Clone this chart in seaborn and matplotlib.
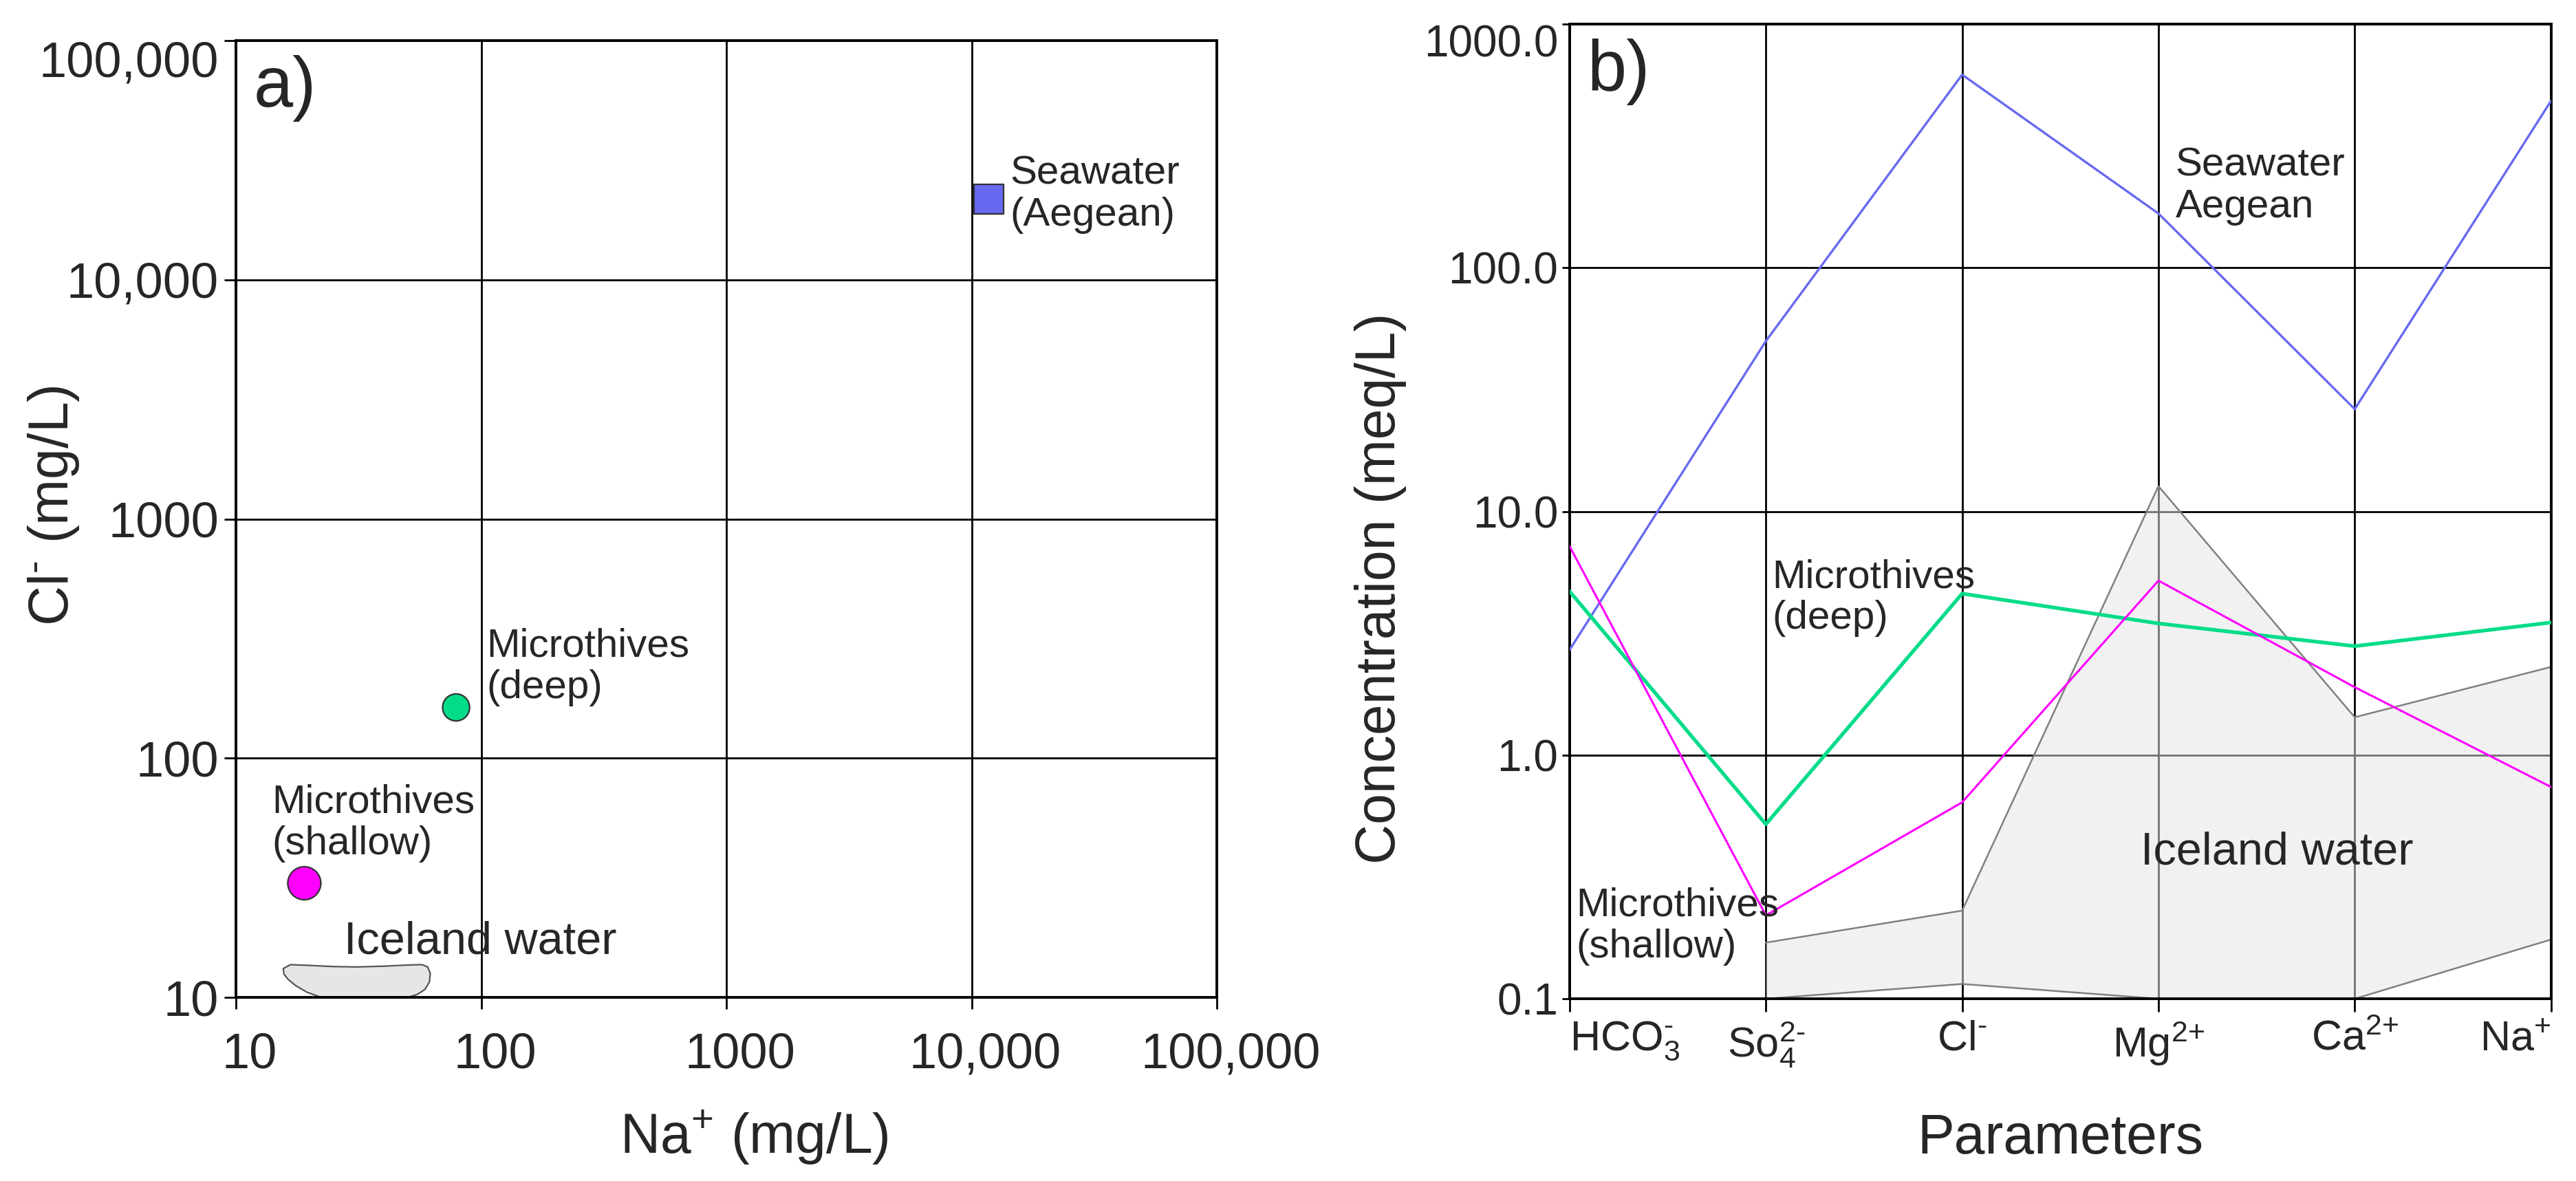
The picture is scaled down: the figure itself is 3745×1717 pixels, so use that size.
import numpy as np
import pandas as pd
import matplotlib
matplotlib.use('Agg')
import matplotlib.pyplot as plt
import matplotlib.transforms as mtransforms
from matplotlib.ticker import NullLocator
import seaborn as sns

# a) Na vs Cl, mg/L
samples = ['Seawater (Aegean)', 'Microthives (deep)', 'Microthives (shallow)']
na_mgl = [11750, 79, 19]
cl_mgl = [21700, 163, 30]

# outline of the Iceland water field in a), mg/L
ice_na = [16.7, 20.0, 25.0, 31.0, 40.0, 50.0, 57.5, 60.5, 62.0, 61.5, 59.0, 55.0, 51.0,
          22.0, 19.5, 17.5, 16.3, 15.7, 15.6]
ice_cl = [13.7, 13.6, 13.45, 13.4, 13.5, 13.65, 13.7, 13.4, 12.6, 11.6, 10.8, 10.3, 10.05,
          10.05, 10.5, 11.2, 11.9, 12.5, 13.2]

# b) ion concentrations, meq/L
params = ['HCO$_3^{\u2010}$', 'So$_4^{2\u2010}$', 'Cl$^{\u2010}$',
          'Mg$^{2{+}}$', 'Ca$^{2{+}}$', 'Na$^{{+}}$']
seawater = [2.7, 50, 620, 167, 26.3, 484]
deep = [4.7, 0.52, 4.6, 3.47, 2.8, 3.5]
shallow = [7.2, 0.22, 0.64, 5.2, 1.9, 0.74]
# Iceland water envelope, So4 to Na
ice_upper = [0.17, 0.23, 12.7, 1.43, 2.3]
ice_lower = [0.10, 0.115, 0.10, 0.10, 0.175]

log_ticks_a = [10, 100, 1000, 10000, 100000]
log_labels_a = ['10', '100', '1000', '10,000', '100,000']
log_ticks_b = [0.1, 1, 10, 100, 1000]
log_labels_b = ['0.1', '1.0', '10.0', '100.0', '1000.0']

colors = {'Seawater (Aegean)': '#6868f0', 'Microthives (deep)': '#00dc88',
          'Microthives (shallow)': '#ff00ff'}

sns.set_theme(style='ticks')
plt.rcParams['font.family'] = ['Liberation Sans', 'DejaVu Sans']
plt.rcParams['mathtext.fontset'] = 'custom'
plt.rcParams['mathtext.rm'] = 'Liberation Sans'
plt.rcParams['mathtext.it'] = 'Liberation Sans:italic'
plt.rcParams['mathtext.bf'] = 'Liberation Sans:bold'
plt.rcParams['mathtext.default'] = 'rm'

fig = plt.figure(figsize=(18.725, 8.585), dpi=200)
ax1 = fig.add_axes([0.0916, 0.1555, 0.3808, 0.8101])
ax2 = fig.add_axes([0.6093, 0.1543, 0.381, 0.8253])

# ---- panel a ----
df_a = pd.DataFrame({'sample': samples, 'Na': na_mgl, 'Cl': cl_mgl})
ax1.set_xscale('log')
ax1.set_yscale('log')
ax1.fill(ice_na, ice_cl, facecolor='#e6e6e6', edgecolor='#555555', lw=0.8, zorder=2)
sns.scatterplot(data=df_a, x='Na', y='Cl', hue='sample', style='sample', size='sample',
                palette=colors,
                markers={'Seawater (Aegean)': 's', 'Microthives (deep)': 'o',
                         'Microthives (shallow)': 'o'},
                sizes={'Seawater (Aegean)': 240, 'Microthives (deep)': 200,
                       'Microthives (shallow)': 300},
                edgecolor='#333333', linewidth=0.8, legend=False, ax=ax1, zorder=3)
ax1.set_xlim(10, 1e5)
ax1.set_ylim(10, 1e5)
ax1.set_xticks(log_ticks_a, log_labels_a)
ax1.set_yticks(log_ticks_a, log_labels_a)
ax1.xaxis.set_minor_locator(NullLocator())
ax1.yaxis.set_minor_locator(NullLocator())
ax1.grid(True, which='major', color='black', lw=1.0)
ax1.set_axisbelow(True)
ax1.tick_params(axis='both', length=6, width=1.0, color='black', labelsize=26)
ax1.tick_params(axis='x', pad=12)
ax1.tick_params(axis='y', pad=3)
ax1.get_yticklabels()[-1].set_va('top')
shift = mtransforms.ScaledTranslation(0.1, 0, fig.dpi_scale_trans)
for lbl in ax1.get_xticklabels():
    lbl.set_transform(lbl.get_transform() + shift)

ax1.set_xlabel('Na$^{{+}}$ (mg/L)', fontsize=29)
ax1.set_ylabel('Cl$^{\u2010}$ (mg/L)', fontsize=29)
ax1.xaxis.set_label_coords(0.528, -0.116)
ax1.yaxis.set_label_coords(-0.158, 0.514)

ax1.text(14300, 22700, 'Seawater\n(Aegean)', fontsize=21, va='center', linespacing=1.15)
ax1.text(105, 241, 'Microthives\n(deep)', fontsize=21, va='center', linespacing=1.15)
ax1.text(14, 53.6, 'Microthives\n(shallow)', fontsize=21, va='center', linespacing=1.15)
ax1.text(27.5, 17.0, 'Iceland water', fontsize=24, va='center')
ax1.text(0.018, 0.985, 'a)', transform=ax1.transAxes, fontsize=37, va='top')

# ---- panel b ----
pos = np.arange(len(params))
df_b = pd.DataFrame({
    'pos': np.tile(pos, 3),
    'meq': seawater + deep + shallow,
    'sample': np.repeat(samples, len(params)),
})
ax2.set_yscale('log')
ax2.fill_between(pos[1:], ice_lower, ice_upper, color='#e4e4e4', alpha=0.5, lw=0, zorder=2)
ax2.plot(pos[1:], ice_upper, color='#808080', lw=0.9, zorder=2.2)
ax2.plot(pos[1:], ice_lower, color='#808080', lw=0.9, zorder=2.2)
sns.lineplot(data=df_b, x='pos', y='meq', hue='sample', size='sample', palette=colors,
             sizes={'Seawater (Aegean)': 1.2, 'Microthives (deep)': 1.9,
                    'Microthives (shallow)': 1.1},
             sort=False, legend=False, ax=ax2, zorder=3)
ax2.set_xlim(0, len(params) - 1)
ax2.set_ylim(0.1, 1000)
ax2.set_xticks(pos, params)
ax2.set_yticks(log_ticks_b, log_labels_b)
ax2.yaxis.set_minor_locator(NullLocator())
ax2.grid(True, which='major', color='black', lw=1.0)
ax2.set_axisbelow(True)
ax2.tick_params(axis='x', length=7, width=1.0, color='black', labelsize=22, pad=4)
ax2.tick_params(axis='y', length=4, width=1.0, color='black', labelsize=23, pad=2)
xl = ax2.get_xticklabels()
xl[0].set_ha('left')
xl[-1].set_ha('right')
ax2.get_yticklabels()[-1].set_va('top')

ax2.set_xlabel('Parameters', fontsize=29)
ax2.set_ylabel('Concentration (meq/L)', fontsize=29)
ax2.xaxis.set_label_coords(0.5, -0.117)
ax2.yaxis.set_label_coords(-0.166, 0.421)

ax2.text(3.086, 216, 'Seawater\nAegean', fontsize=21, va='center', linespacing=1.15)
ax2.text(1.031, 4.42, 'Microthives\n(deep)', fontsize=21, va='center', linespacing=1.15)
ax2.text(0.033, 0.198, 'Microthives\n(shallow)', fontsize=21, va='center', linespacing=1.15)
ax2.text(2.908, 0.397, 'Iceland water', fontsize=24, va='center')
ax2.text(0.018, 0.985, 'b)', transform=ax2.transAxes, fontsize=37, va='top')

for ax in (ax1, ax2):
    for sp in ax.spines.values():
        sp.set_color('black')
        sp.set_linewidth(1.4)
        sp.set_visible(True)

fig.savefig('out.png', dpi=200, facecolor='white')
